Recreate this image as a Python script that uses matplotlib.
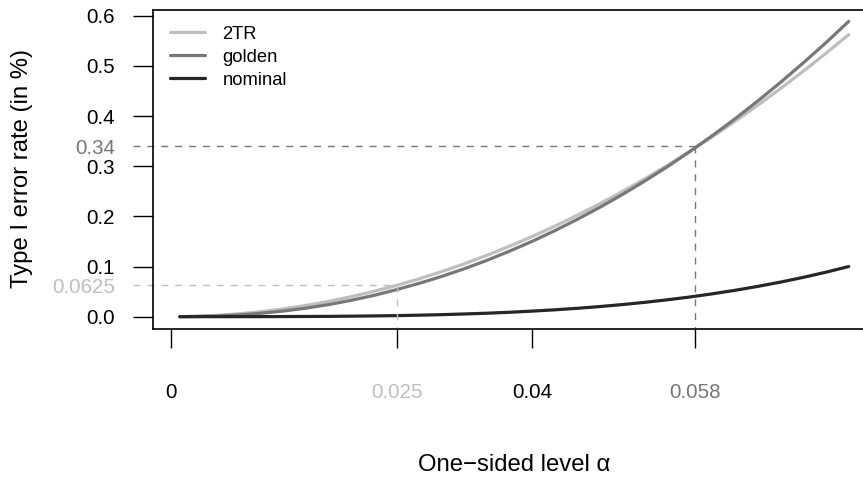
import matplotlib
matplotlib.use('Agg')
import matplotlib.pyplot as plt

plt.rcParams['font.family'] = ['Liberation Sans', 'DejaVu Sans']

# one-sided level alpha
alpha = [0.001, 0.0025, 0.005, 0.0075, 0.010, 0.0125, 0.015, 0.0175, 0.020, 0.0225,
         0.025, 0.0275, 0.030, 0.0325, 0.035, 0.0375, 0.040, 0.0425, 0.045, 0.0475,
         0.050, 0.0525, 0.055, 0.0575, 0.060, 0.0625, 0.065, 0.0675, 0.070, 0.0725,
         0.075]
# type I error rate (in %)
err_2tr = [0.0001, 0.0006, 0.0025, 0.0056, 0.0100, 0.0156, 0.0225, 0.0306, 0.0400, 0.0506,
           0.0625, 0.0756, 0.0900, 0.1056, 0.1225, 0.1406, 0.1600, 0.1806, 0.2025, 0.2256,
           0.2500, 0.2756, 0.3025, 0.3306, 0.3600, 0.3906, 0.4225, 0.4556, 0.4900, 0.5256,
           0.5625]
err_golden = [0.0000, 0.0003, 0.0013, 0.0034, 0.0068, 0.0113, 0.0171, 0.0242, 0.0328, 0.0425,
              0.0540, 0.0666, 0.0804, 0.0957, 0.1125, 0.1308, 0.1504, 0.1716, 0.1944, 0.2184,
              0.2440, 0.2712, 0.2998, 0.3303, 0.3622, 0.3957, 0.4310, 0.4679, 0.5067, 0.5467,
              0.5889]
err_nominal = [0.0000, 0.0000, 0.0000, 0.0000, 0.0001, 0.0002, 0.0004, 0.0006, 0.0010, 0.0015,
               0.0021, 0.0030, 0.0040, 0.0054, 0.0069, 0.0088, 0.0111, 0.0137, 0.0167, 0.0202,
               0.0242, 0.0287, 0.0338, 0.0394, 0.0458, 0.0528, 0.0606, 0.0691, 0.0785, 0.0888,
               0.1000]

series_names = ['2TR', 'golden', 'nominal']
series_cols = ['#bebebe', '#777777', '#262626']

# marked points: (alpha, error rate) for 2TR and golden
mark_2tr = (0.025, 0.0625)
mark_golden = (0.058, 0.34)

yticks = [0.0, 0.1, 0.2, 0.3, 0.4, 0.5, 0.6]
ytick_labels = ['0.0', '0.1', '0.2', '0.3', '0.4', '0.5', '0.6']
xticks = [0, 0.025, 0.04, 0.058]
xtick_labels = ['0', '0.025', '0.04', '0.058']
xtick_cols = ['black', series_cols[0], 'black', series_cols[1]]

fig = plt.figure(figsize=(8.63, 4.8), dpi=100)
W, H = 863, 480
left, right, top, bottom = 153, 875.5, 9.5, 328.5
ax = fig.add_axes([left / W, 1 - bottom / H, (right - left) / W, (bottom - top) / H])

xlo, xhi = -0.00196, 0.07796
ylo, yhi = -0.0236, 0.6126
ax.set_xlim(xlo, xhi)
ax.set_ylim(ylo, yhi)

for ys, name, c in zip([err_2tr, err_golden, err_nominal], series_names, series_cols):
    ax.plot(alpha, ys, color=c, lw=2.3, label=name, solid_capstyle='round',
            solid_joinstyle='round')

# dashed guide lines
px_per_x = (right - left) / (xhi - xlo)
x_tick_start = xlo - 20 / px_per_x
for (mx, my), c in [(mark_2tr, series_cols[0]), (mark_golden, series_cols[1])]:
    ax.plot([x_tick_start, mx], [my, my], color=c, lw=1, ls=(0, (5, 5)), clip_on=False)
    ax.plot([mx, mx], [my, ylo], color=c, lw=1, ls=(0, (5, 5)))

for s in ax.spines.values():
    s.set_linewidth(1.2)
    s.set_color('black')

# y axis
ax.set_yticks(yticks + [mark_golden[1], mark_2tr[1]])
ax.set_yticklabels(ytick_labels + ['0.34', '0.0625'])
ax.tick_params(axis='y', length=14.4, width=1, pad=13, labelsize=14.8)
yt = ax.yaxis.get_major_ticks()
yt[-2].tick1line.set_visible(False)
yt[-2].label1.set_color(series_cols[1])
yt[-1].tick1line.set_visible(False)
yt[-1].label1.set_color(series_cols[0])

# x axis
ax.set_xticks(xticks)
ax.set_xticklabels(xtick_labels)
ax.tick_params(axis='x', length=14, width=1, pad=25, labelsize=14.8)
for t, c in zip(ax.xaxis.get_major_ticks(), xtick_cols):
    t.tick1line.set_color(c)
    t.label1.set_color(c)

ax.text(0.5, (bottom - 465) / (bottom - top), 'One\u2212sided level \u03b1', transform=ax.transAxes,
        ha='center', va='center', fontsize=17.2)
ax.text((22 - left) / (right - left), 0.5, 'Type I error rate (in %)', transform=ax.transAxes,
        ha='center', va='center', rotation=90, fontsize=17.2)

ax.legend(loc='upper left', bbox_to_anchor=(17 / (right - left), 1 - 16.3 / (bottom - top)),
          frameon=False, fontsize=13.2, borderpad=0, borderaxespad=0,
          handlelength=1.9, handletextpad=0.97, labelspacing=0.33)

fig.savefig('out.png', dpi=100)
